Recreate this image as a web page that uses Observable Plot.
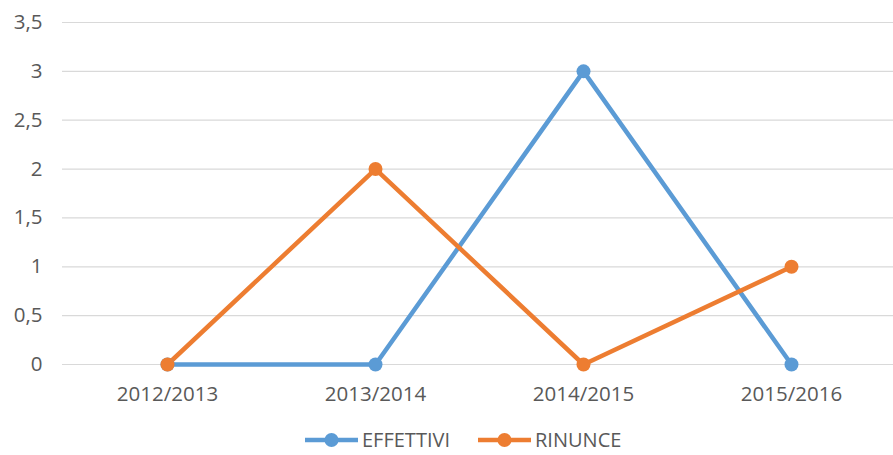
<!DOCTYPE html>
<html>
<head>
<meta charset="utf-8">
<script src="https://cdn.jsdelivr.net/npm/d3@7"></script>
<script src="https://cdn.jsdelivr.net/npm/@observablehq/plot@0.6"></script>
<style>
  html, body { margin: 0; padding: 0; background: #fff; }
  #chart { width: 893px; height: 410px; }
  .legend { position: relative; width: 893px; height: 44px; font-family: "Open Sans", sans-serif; font-size: 20px; color: #595959; }
  .item { position: absolute; top: 21px; display: flex; align-items: center; height: 18px; line-height: 18px; }
  .item svg { margin-right: 4px; }
</style>
</head>
<body>
<div id="chart"></div>
<script>
const categories = ["2012/2013", "2013/2014", "2014/2015", "2015/2016"];
const effettivi = [0, 0, 3, 0];
const rinunce = [0, 2, 0, 1];
const seriesNames = ["EFFETTIVI", "RINUNCE"];
const colors = ["#5B9BD5", "#ED7D31"];
const yTicks = [0, 0.5, 1, 1.5, 2, 2.5, 3, 3.5];

const data = [];
categories.forEach((c, i) => {
  data.push({cat: c, value: effettivi[i], series: seriesNames[0]});
  data.push({cat: c, value: rinunce[i], series: seriesNames[1]});
});

const fmt = d => String(d).replace(".", ",");

const plot = Plot.plot({
  width: 893,
  height: 410,
  marginLeft: 62,
  marginRight: -2,
  marginTop: 22,
  marginBottom: 46,
  style: {fontFamily: "Open Sans, sans-serif", fontSize: "20.5px", color: "#595959", background: "#fff"},
  x: {type: "point", domain: categories, padding: 0.5, label: null},
  y: {domain: [0, 3.5], label: null},
  color: {domain: seriesNames, range: colors},
  marks: [
    Plot.ruleY(yTicks, {stroke: "#D9D9D9", strokeWidth: 1.2}),
    Plot.axisY(yTicks, {tickSize: 0, tickPadding: 20, tickFormat: fmt, label: null, fontSize: 20.5}),
    Plot.axisX({tickSize: 0, tickPadding: 22, label: null, fontSize: 20.5}),
    Plot.line(data, {x: "cat", y: "value", z: "series", stroke: "series", strokeWidth: 4.5, curve: "linear"}),
    Plot.dot(data, {x: "cat", y: "value", fill: "series", r: 7, stroke: null})
  ]
});
document.getElementById("chart").appendChild(plot);

const legend = document.createElement("div");
legend.className = "legend";
const legendX = [305, 478];
seriesNames.forEach((name, i) => {
  const item = document.createElement("div");
  item.className = "item";
  item.style.left = legendX[i] + "px";
  item.innerHTML = `<svg width="53" height="16"><line x1="0" y1="8" x2="53" y2="8" stroke="${colors[i]}" stroke-width="4.5"/><circle cx="26.5" cy="8" r="7" fill="${colors[i]}"/></svg><span>${name}</span>`;
  legend.appendChild(item);
});
document.body.appendChild(legend);
</script>
</body>
</html>
